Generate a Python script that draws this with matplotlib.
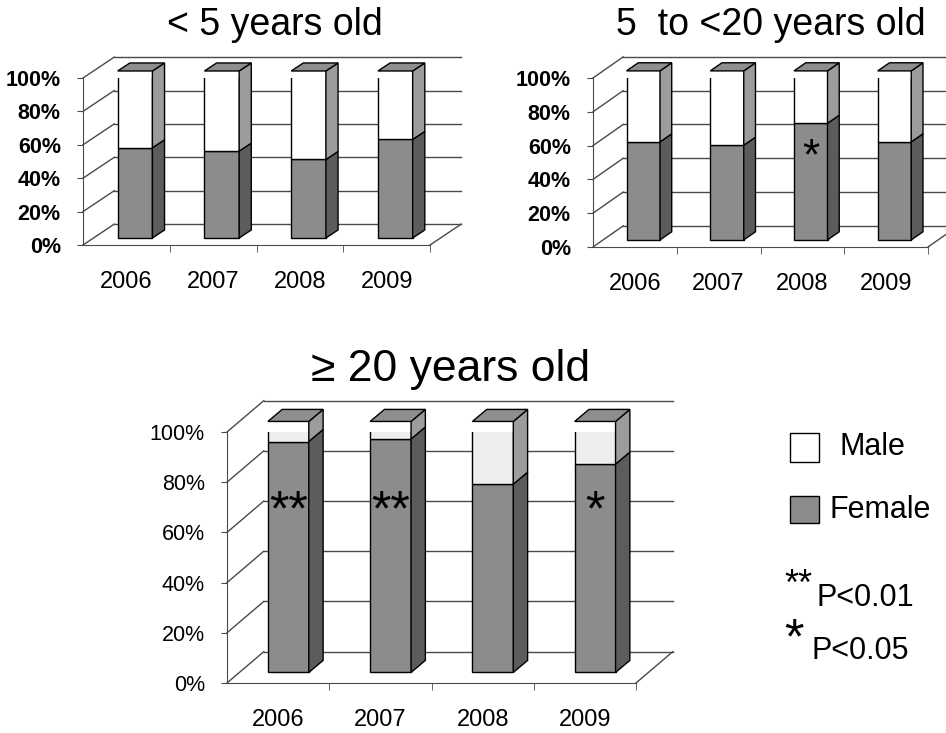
import numpy as np
import matplotlib
matplotlib.use("Agg")
import matplotlib.pyplot as plt
from matplotlib.patches import Polygon, Rectangle

plt.rcParams['font.family'] = ['Liberation Sans', 'DejaVu Sans']

# data (percent female per year, male = rest)
years = ["2006", "2007", "2008", "2009"]
female_under5 = [54, 52, 47, 59]
female_5to20 = [58, 56, 69, 58]
female_over20 = [92, 93, 75, 83]
marks_under5 = ["", "", "", ""]
marks_5to20 = ["", "", "*", ""]
marks_over20 = ["**", "**", "", "*"]
yticks = [0, 20, 40, 60, 80, 100]

# fake 3-d look, in data units
WALL_DX, WALL_DY = 0.36, 12.5
BAR_DX, BAR_DY = 0.14, 4.8
SHIFT_X, SHIFT_Y = 0.10, 4.2
BAR_W = 0.40

GRID = "#4a4a4a"
FEM_FRONT = "#8c8c8c"
FEM_SIDE = "#5c5c5c"
MALE_SIDE = "#9c9c9c"
TOP = "#8e8e8e"

W, H = 946, 733
fig = plt.figure(figsize=(W / 100, H / 100), dpi=100)


def axes_px(x0, x1, y0, y100):
    # axes box = front plane, x from -0.5 to 3.5, y from 0 to 100
    return fig.add_axes([x0 / W, 1 - y0 / H, (x1 - x0) / W, (y0 - y100) / H])


def draw_panel(ax, female, marks, male_color, label_weight, mark_size, mark_y):
    x = np.arange(len(years))
    male = [100 - f for f in female]
    ax.set_xlim(-0.5, 3.5)
    ax.set_ylim(0, 100)

    # walls and floor
    for v in yticks:
        ax.plot([-0.5, -0.5 + WALL_DX], [v, v + WALL_DY], color=GRID, lw=1, clip_on=False, zorder=1)
        ax.plot([-0.5 + WALL_DX, 3.5 + WALL_DX], [v + WALL_DY] * 2, color=GRID, lw=1, clip_on=False, zorder=1)
    ax.plot([3.5, 3.5 + WALL_DX], [0, WALL_DY], color=GRID, lw=1, clip_on=False, zorder=1)

    # bars
    xs = x + SHIFT_X
    ax.bar(xs, female, width=BAR_W, bottom=SHIFT_Y, color=FEM_FRONT,
           edgecolor="black", lw=1, zorder=3)
    ax.bar(xs, male, width=BAR_W, bottom=[SHIFT_Y + f for f in female],
           color=male_color, edgecolor="black", lw=1, zorder=3)
    for i, f in enumerate(female):
        l = xs[i] - BAR_W / 2
        r = xs[i] + BAR_W / 2
        b, m, t = SHIFT_Y, SHIFT_Y + f, SHIFT_Y + 100
        faces = [
            ([(r, b), (r + BAR_DX, b + BAR_DY), (r + BAR_DX, m + BAR_DY), (r, m)], FEM_SIDE),
            ([(r, m), (r + BAR_DX, m + BAR_DY), (r + BAR_DX, t + BAR_DY), (r, t)], MALE_SIDE),
            ([(l, t), (l + BAR_DX, t + BAR_DY), (r + BAR_DX, t + BAR_DY), (r, t)], TOP),
        ]
        for pts, c in faces:
            ax.add_patch(Polygon(pts, closed=True, facecolor=c, edgecolor="black",
                                 lw=1, clip_on=False, zorder=3))
        if marks[i]:
            ax.text(xs[i], mark_y, marks[i], ha="center", va="center",
                    fontsize=mark_size, zorder=5)

    # axes
    for s in ["top", "right"]:
        ax.spines[s].set_visible(False)
    ax.spines["left"].set_color(GRID)
    ax.spines["bottom"].set_color(GRID)
    ax.set_yticks(yticks)
    ax.set_yticklabels([f"{v}%" for v in yticks], fontsize=15.5, fontweight=label_weight)
    ax.tick_params(axis="y", length=4, color=GRID, pad=12)
    ax.set_xticks(x)
    ax.set_xticklabels(years, fontsize=17)
    ax.tick_params(axis="x", which="major", length=0, pad=19)
    ax.set_xticks([0.5, 1.5, 2.5, 3.5], minor=True)
    ax.tick_params(axis="x", which="minor", length=5, color=GRID)
    ax.patch.set_alpha(0)


ax1 = axes_px(83, 430, 245, 78)
draw_panel(ax1, female_under5, marks_under5, "white", "bold", 30, 50)
ax2 = axes_px(593, 928, 247, 78)
draw_panel(ax2, female_5to20, marks_5to20, "white", "bold", 32, 53)
ax3 = axes_px(227, 636, 683, 432)
draw_panel(ax3, female_over20, marks_over20, "#ededed", "normal", 36, 68)

# titles
fig.text(275 / W, 1 - 25 / H, "< 5 years old", ha="center", va="center", fontsize=27)
fig.text(771 / W, 1 - 25 / H, "5  to <20 years old", ha="center", va="center", fontsize=27)
fig.text(451 / W, 1 - 370 / H, "\u2265 20 years old", ha="center", va="center", fontsize=32)

# legend
fig.patches.append(Rectangle((790 / W, 1 - 462 / H), 29 / W, 29 / H, facecolor="white",
                             edgecolor="black", lw=1, transform=fig.transFigure, figure=fig))
fig.patches.append(Rectangle((790 / W, 1 - 523 / H), 29 / W, 27 / H, facecolor=FEM_FRONT,
                             edgecolor="black", lw=1, transform=fig.transFigure, figure=fig))
fig.text(840 / W, 1 - 447 / H, "Male", ha="left", va="center", fontsize=22)
fig.text(829 / W, 1 - 510 / H, "Female", ha="left", va="center", fontsize=22)
fig.text(784 / W, 1 - 585 / H, "**", ha="left", va="center", fontsize=26)
fig.text(816 / W, 1 - 598 / H, "P<0.01", ha="left", va="center", fontsize=22)
fig.text(784 / W, 1 - 640 / H, "*", ha="left", va="center", fontsize=36)
fig.text(812 / W, 1 - 651 / H, "P<0.05", ha="left", va="center", fontsize=22)

fig.savefig("out.png", dpi=100)
